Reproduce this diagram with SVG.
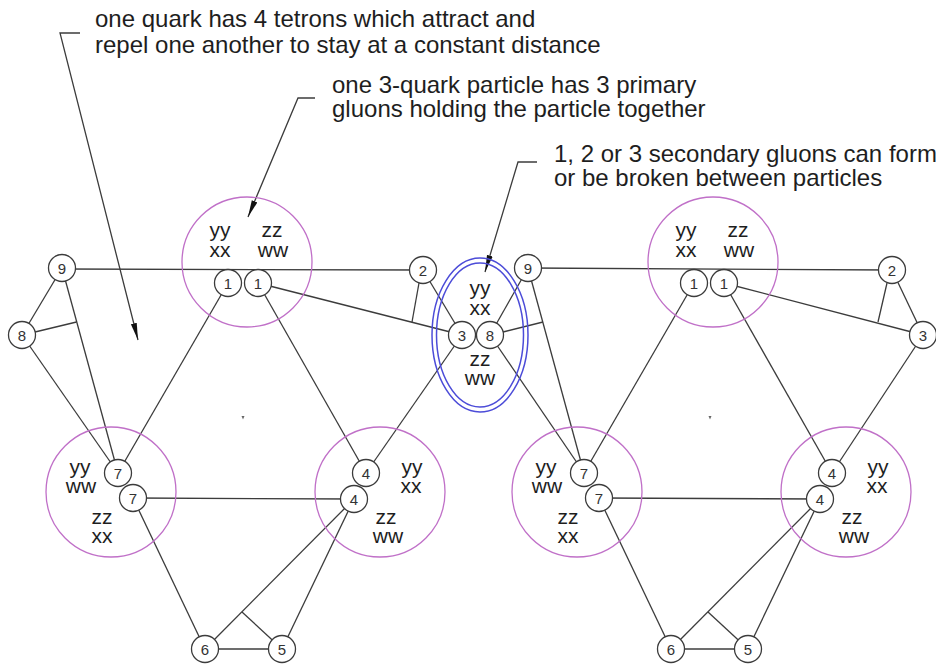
<svg xmlns="http://www.w3.org/2000/svg" width="936" height="666" viewBox="0 0 936 666">
<defs>
<style>
.ln{stroke:#3c3c3c;stroke-width:1.3;fill:none}
.big{stroke:#c070c8;stroke-width:1.3;fill:none}
.ell{stroke:#4c4cd8;stroke-width:1.5;fill:none}
.sm{stroke:#3c3c3c;stroke-width:1.3;fill:#fff}
.num{font-family:"Liberation Sans",Arial,sans-serif;font-size:15px;fill:#333;text-anchor:middle}
.lab{font-family:"Liberation Sans",Arial,sans-serif;font-size:21px;fill:#1e1e1e;text-anchor:middle}
.note{font-family:"Liberation Sans",Arial,sans-serif;font-size:24px;fill:#1e1e1e}
.lead{stroke:#3c3c3c;stroke-width:1.3;fill:none}
</style>
<marker id="arr" markerUnits="userSpaceOnUse" markerWidth="18" markerHeight="8" refX="17" refY="4" orient="auto">
<path d="M0,1 L17,4 L0,7 z" fill="#111"/>
</marker>
</defs>
<rect width="936" height="666" fill="#fff"/>

<g id="connectors">
<!-- left structure -->
<line class="ln" x1="62" y1="269" x2="423" y2="270"/>
<line class="ln" x1="62" y1="268" x2="22" y2="335"/>
<line class="ln" x1="22" y1="335" x2="118" y2="473"/>
<line class="ln" x1="62" y1="268" x2="118" y2="473"/>
<line class="ln" x1="35" y1="332" x2="76.5" y2="322"/>
<line class="ln" x1="228" y1="283" x2="118" y2="473"/>
<line class="ln" x1="258" y1="283" x2="366" y2="473"/>
<line class="ln" x1="258" y1="283" x2="462" y2="335"/>
<line class="ln" x1="423" y1="270" x2="462" y2="335"/>
<line class="ln" x1="419" y1="283" x2="412" y2="322"/>
<line class="ln" x1="462" y1="335" x2="366" y2="473"/>
<line class="ln" x1="133" y1="498" x2="354" y2="499"/>
<line class="ln" x1="133" y1="498" x2="205" y2="649"/>
<line class="ln" x1="354" y1="499" x2="205" y2="649"/>
<line class="ln" x1="354" y1="499" x2="282" y2="649"/>
<line class="ln" x1="242" y1="612" x2="282" y2="649"/>
<line class="ln" x1="205" y1="649" x2="282" y2="649"/>
<!-- right structure -->
<line class="ln" x1="528" y1="268" x2="892" y2="270"/>
<line class="ln" x1="528" y1="268" x2="490" y2="335"/>
<line class="ln" x1="490" y1="335" x2="584" y2="473"/>
<line class="ln" x1="528" y1="268" x2="584" y2="473"/>
<line class="ln" x1="503" y1="332" x2="543" y2="322"/>
<line class="ln" x1="694" y1="283" x2="584" y2="473"/>
<line class="ln" x1="724" y1="283" x2="832" y2="473"/>
<line class="ln" x1="724" y1="283" x2="923" y2="335"/>
<line class="ln" x1="892" y1="270" x2="923" y2="335"/>
<line class="ln" x1="887" y1="283" x2="878" y2="322"/>
<line class="ln" x1="923" y1="335" x2="832" y2="473"/>
<line class="ln" x1="599" y1="498" x2="820" y2="499"/>
<line class="ln" x1="599" y1="498" x2="671" y2="649"/>
<line class="ln" x1="820" y1="499" x2="671" y2="649"/>
<line class="ln" x1="820" y1="499" x2="748" y2="649"/>
<line class="ln" x1="708" y1="612" x2="748" y2="649"/>
<line class="ln" x1="671" y1="649" x2="748" y2="649"/>
<!-- annotation leaders -->
<polyline class="lead" points="80,33 60,33 138,340" marker-end="url(#arr)"/>
<polyline class="lead" points="315,98 298,98 248,217" marker-end="url(#arr)"/>
<polyline class="lead" points="537,162 518,162 485,272" marker-end="url(#arr)"/>
</g>

<!-- left structure quarks -->
<g id="quark-L-top">
<circle class="big" cx="247" cy="262" r="65"/>
<text class="lab" x="220" y="237">yy</text>
<text class="lab" x="272" y="237">zz</text>
<text class="lab" x="220" y="257">xx</text>
<text class="lab" x="273" y="257">ww</text>
</g>
<g id="quark-L-left">
<circle class="big" cx="111" cy="492" r="65"/>
<text class="lab" x="80" y="474">yy</text>
<text class="lab" x="81" y="493">ww</text>
<text class="lab" x="102" y="524">zz</text>
<text class="lab" x="102" y="543">xx</text>
</g>
<g id="quark-L-right">
<circle class="big" cx="380" cy="492" r="65"/>
<text class="lab" x="412" y="474">yy</text>
<text class="lab" x="411" y="493">xx</text>
<text class="lab" x="386" y="524">zz</text>
<text class="lab" x="388" y="543">ww</text>
</g>
<!-- shared quark -->
<g id="quark-shared">
<ellipse class="ell" cx="480" cy="335" rx="48" ry="77"/>
<ellipse class="ell" cx="480" cy="335" rx="43.5" ry="72"/>
<text class="lab" x="480" y="295">yy</text>
<text class="lab" x="480" y="315">xx</text>
<text class="lab" x="480" y="366">zz</text>
<text class="lab" x="480" y="385">ww</text>
</g>
<!-- right structure quarks -->
<g id="quark-R-top">
<circle class="big" cx="713" cy="262" r="65"/>
<text class="lab" x="686" y="237">yy</text>
<text class="lab" x="738" y="237">zz</text>
<text class="lab" x="686" y="257">xx</text>
<text class="lab" x="739" y="257">ww</text>
</g>
<g id="quark-R-left">
<circle class="big" cx="577" cy="492" r="65"/>
<text class="lab" x="546" y="474">yy</text>
<text class="lab" x="547" y="493">ww</text>
<text class="lab" x="568" y="524">zz</text>
<text class="lab" x="568" y="543">xx</text>
</g>
<g id="quark-R-right">
<circle class="big" cx="846" cy="492" r="65"/>
<text class="lab" x="878" y="474">yy</text>
<text class="lab" x="877" y="493">xx</text>
<text class="lab" x="852" y="524">zz</text>
<text class="lab" x="854" y="543">ww</text>
</g>

<!-- tetron nodes, left -->
<g id="t-L9"><circle class="sm" cx="62" cy="268" r="13.5"/><text class="num" x="62" y="273.5">9</text></g>
<g id="t-L8"><circle class="sm" cx="22" cy="335" r="13.5"/><text class="num" x="22" y="340.5">8</text></g>
<g id="t-L1a"><circle class="sm" cx="228" cy="283" r="13.5"/><text class="num" x="228" y="288.5">1</text></g>
<g id="t-L1b"><circle class="sm" cx="258" cy="283" r="13.5"/><text class="num" x="258" y="288.5">1</text></g>
<g id="t-L2"><circle class="sm" cx="423" cy="270" r="13.5"/><text class="num" x="423" y="275.5">2</text></g>
<g id="t-L3"><circle class="sm" cx="462" cy="335" r="13.5"/><text class="num" x="462" y="340.5">3</text></g>
<g id="t-L7a"><circle class="sm" cx="118" cy="473" r="13.5"/><text class="num" x="118" y="478.5">7</text></g>
<g id="t-L7b"><circle class="sm" cx="133" cy="498" r="13.5"/><text class="num" x="133" y="503.5">7</text></g>
<g id="t-L4a"><circle class="sm" cx="366" cy="473" r="13.5"/><text class="num" x="366" y="478.5">4</text></g>
<g id="t-L4b"><circle class="sm" cx="354" cy="499" r="13.5"/><text class="num" x="354" y="504.5">4</text></g>
<g id="t-L6"><circle class="sm" cx="205" cy="649" r="13.5"/><text class="num" x="205" y="654.5">6</text></g>
<g id="t-L5"><circle class="sm" cx="282" cy="649" r="13.5"/><text class="num" x="282" y="654.5">5</text></g>
<!-- tetron nodes, right -->
<g id="t-R9"><circle class="sm" cx="528" cy="268" r="13.5"/><text class="num" x="528" y="273.5">9</text></g>
<g id="t-R8"><circle class="sm" cx="490" cy="335" r="13.5"/><text class="num" x="490" y="340.5">8</text></g>
<g id="t-R1a"><circle class="sm" cx="694" cy="283" r="13.5"/><text class="num" x="694" y="288.5">1</text></g>
<g id="t-R1b"><circle class="sm" cx="724" cy="283" r="13.5"/><text class="num" x="724" y="288.5">1</text></g>
<g id="t-R2"><circle class="sm" cx="892" cy="270" r="13.5"/><text class="num" x="892" y="275.5">2</text></g>
<g id="t-R3"><circle class="sm" cx="923" cy="335" r="13.5"/><text class="num" x="923" y="340.5">3</text></g>
<g id="t-R7a"><circle class="sm" cx="584" cy="473" r="13.5"/><text class="num" x="584" y="478.5">7</text></g>
<g id="t-R7b"><circle class="sm" cx="599" cy="498" r="13.5"/><text class="num" x="599" y="503.5">7</text></g>
<g id="t-R4a"><circle class="sm" cx="832" cy="473" r="13.5"/><text class="num" x="832" y="478.5">4</text></g>
<g id="t-R4b"><circle class="sm" cx="820" cy="499" r="13.5"/><text class="num" x="820" y="504.5">4</text></g>
<g id="t-R6"><circle class="sm" cx="671" cy="649" r="13.5"/><text class="num" x="671" y="654.5">6</text></g>
<g id="t-R5"><circle class="sm" cx="748" cy="649" r="13.5"/><text class="num" x="748" y="654.5">5</text></g>

<!-- small centre marks -->
<path d="M241.5,416 L244.5,416 L243,419.5 z" fill="#666"/>
<path d="M708.5,416 L711.5,416 L710,419.5 z" fill="#666"/>

<g id="notes">
<text class="note" x="95" y="27">one quark has 4 tetrons which attract and</text>
<text class="note" x="95" y="53">repel one another to stay at a constant distance</text>
<text class="note" x="332" y="93">one 3-quark particle has 3 primary</text>
<text class="note" x="332" y="117">gluons holding the particle together</text>
<text class="note" x="554" y="162">1, 2 or 3 secondary gluons can form</text>
<text class="note" x="554" y="186">or be broken between particles</text>
</g>
</svg>
